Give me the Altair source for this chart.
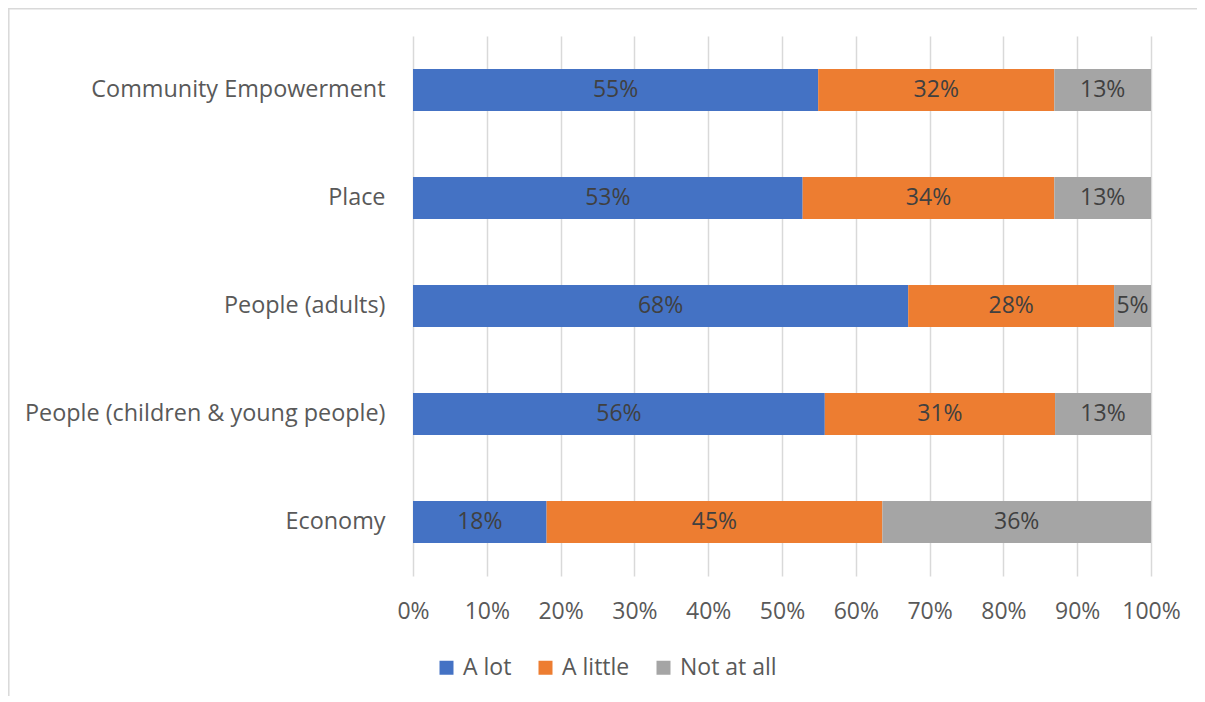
import altair as alt
import pandas as pd

categories = ["Community Empowerment", "Place", "People (adults)",
              "People (children & young people)", "Economy"]
responses = ["A lot", "A little", "Not at all"]
colors = ["#4472C4", "#ED7D31", "#A5A5A5"]

a_lot = [54.9, 52.8, 67.1, 55.8, 18.1]
a_little = [32.0, 34.1, 27.9, 31.2, 45.5]
not_at_all = [13.1, 13.1, 5.0, 13.0, 36.4]

lbl_lot = ["55%", "53%", "68%", "56%", "18%"]
lbl_little = ["32%", "34%", "28%", "31%", "45%"]
lbl_not = ["13%", "13%", "5%", "13%", "36%"]

rows = []
for i, c in enumerate(categories):
    for j, (vals, lbls) in enumerate([(a_lot, lbl_lot), (a_little, lbl_little), (not_at_all, lbl_not)]):
        rows.append({"category": c, "response": responses[j], "value": vals[i],
                     "label": lbls[i], "order": j})
df = pd.DataFrame(rows)

FONT = "Open Sans"
FS = 23

y_enc = alt.Y("category:N", sort=categories, title=None,
              scale=alt.Scale(paddingInner=0.61, paddingOuter=0.305),
              axis=alt.Axis(domain=False, ticks=False, labelPadding=28,
                            labelFontSize=23.4, labelColor="#595959", labelFont=FONT,
                            labelLimit=500))

base = alt.Chart(df)

bars = base.mark_bar().encode(
    y=y_enc,
    x=alt.X("value:Q", stack="normalize", title=None,
            scale=alt.Scale(domain=[0, 1]),
            axis=alt.Axis(format=".0%", values=[i / 10 for i in range(11)],
                          domain=False, ticks=False, grid=True,
                          gridColor="#d9d9d9", gridWidth=1.5,
                          labelFontSize=FS, labelColor="#595959", labelFont=FONT,
                          labelPadding=24, labelFlush=False)),
    color=alt.Color("response:N", sort=responses,
                    scale=alt.Scale(domain=responses, range=colors),
                    legend=alt.Legend(title=None, orient="none", direction="horizontal",
                                      legendX=22, legendY=620,
                                      symbolType="square", symbolSize=196,
                                      symbolStrokeWidth=0,
                                      labelFontSize=FS, labelColor="#595959",
                                      labelFont=FONT, labelOffset=5,
                                      columnPadding=22)),
    order=alt.Order("order:Q"),
)

text = base.transform_stack(
    stack="value", as_=["x0", "x1"], groupby=["category"],
    offset="normalize", sort=[alt.SortField("order")]
).transform_calculate(
    mid="(datum.x0 + datum.x1) / 2"
).mark_text(fontSize=FS, font=FONT, color="#404040").encode(
    y=alt.Y("category:N", sort=categories),
    x=alt.X("mid:Q"),
    text="label:N",
)

frame_data = pd.DataFrame({"k": [0]})
frame_left = alt.Chart(frame_data).mark_rule(color="#d9d9d9", strokeWidth=1.5).encode(
    x=alt.value(-404.2), y=alt.value(-28), y2=alt.value(680)
)
frame_top = alt.Chart(frame_data).mark_rule(color="#d9d9d9", strokeWidth=1.5).encode(
    x=alt.value(-405), x2=alt.value(802), y=alt.value(-27.2)
)

chart = alt.layer(frame_left, frame_top, bars, text).properties(
    width=738, height=540,
    autosize=alt.AutoSizeParams(type="none"),
    padding={"left": 405, "top": 28, "right": 46, "bottom": 120},
    background="white",
).configure_view(strokeWidth=0)

chart.save("out.html", embed_options={"renderer": "svg", "actions": False})
